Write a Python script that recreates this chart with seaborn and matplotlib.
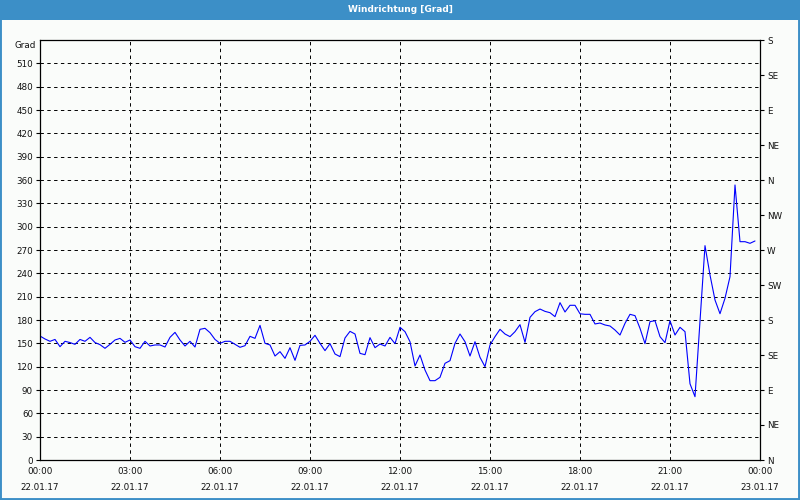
import matplotlib
matplotlib.use("Agg")
import matplotlib.pyplot as plt
import seaborn as sns
import pandas as pd
import numpy as np
from matplotlib.patches import Rectangle
from matplotlib.ticker import MultipleLocator

# ---- data (minutes after 22.01.17 00:00, wind direction in degrees) ----
minutes = list(range(0, 1440, 10))
direction = [
    159.4, 155.6, 152.6, 155.0, 145.7, 152.6, 151.0, 148.7, 155.0, 152.6,
    157.7, 151.0, 148.3, 143.6, 148.7, 154.3, 156.4, 151.3, 154.3,
    145.7, 143.6, 152.6, 146.6, 147.9, 147.9, 145.3, 157.7, 164.1, 154.3,
    146.6, 152.6, 145.3, 168.0, 169.3, 163.7, 155.0, 150.0,
    152.6, 152.6, 148.7, 144.9, 147.0, 159.0, 156.4, 173.1, 150.0, 147.9,
    133.7, 139.3, 130.7, 144.4, 128.1, 147.4, 147.9, 152.6,
    160.3, 150.0, 140.6, 149.6, 136.3, 132.9, 156.9, 165.4, 162.0, 137.1,
    135.4, 157.3, 144.4, 149.1, 146.6, 157.7, 149.6, 170.6,
    165.0, 152.1, 120.9, 135.0, 115.7, 102.0, 102.0, 106.3, 124.3, 127.7,
    150.0, 162.0, 152.1, 133.7, 152.1, 132.0, 120.0, 147.9,
    158.6, 168.0, 162.0, 158.6, 165.0, 174.0, 151.3, 183.4, 190.7, 194.1,
    191.1, 189.4, 184.3, 202.3, 190.3, 198.9, 198.9, 188.0,
    187.3, 187.3, 174.9, 176.1, 173.6, 172.3, 167.1, 160.7, 175.7, 187.3,
    185.6, 169.3, 149.6, 177.9, 179.1, 158.6, 150.9, 179.1,
    160.7, 170.6, 165.0, 98.0, 81.4, 179.1, 275.6, 237.9, 205.7, 188.1,
    207.9, 235.7, 353.6, 280.7, 280.7, 278.6, 281.6,
]
minutes = minutes[:len(direction)]

left_ticks = list(range(0, 540, 30))
right_ticks = list(range(0, 541, 45))
right_labels = ["N", "NE", "E", "SE", "S", "SW", "W", "NW", "N", "NE", "E", "SE", "S"]
x_major = list(range(0, 1441, 180))
x_labels = ["00:00\n22.01.17", "03:00\n22.01.17", "06:00\n22.01.17", "09:00\n22.01.17",
            "12:00\n22.01.17", "15:00\n22.01.17", "18:00\n22.01.17", "21:00\n22.01.17",
            "00:00\n23.01.17"]
title = "Windrichtung [Grad]"

df = pd.DataFrame({"t": minutes, "deg": direction})

sns.set_style("white")
plt.rcParams["font.family"] = ["DejaVu Sans"]

BG = "#fafcfa"
BLUE = "#3c8fc7"
TXT = "#111111"
FS = 6.3

fig = plt.figure(figsize=(8, 5), dpi=100, facecolor=BG)
ax = fig.add_axes([40/800, 40/500, 720/800, 420/500])
ax.set_facecolor(BG)

sns.lineplot(data=df, x="t", y="deg", ax=ax, color="#0000ff", linewidth=0.8)

ax.set_xlim(0, 1440)
ax.set_ylim(0, 540)
ax.set_xlabel("")
ax.set_ylabel("")

ax.set_yticks(left_ticks)
ax.set_yticklabels([str(v) for v in left_ticks])
ax.set_xticks(x_major)
ax.set_xticklabels(x_labels)
ax.xaxis.set_minor_locator(MultipleLocator(60))
for lbl in ax.get_xticklabels():
    lbl.set_linespacing(2.0)

ax.tick_params(axis="both", which="both", direction="out", colors="black",
               labelcolor=TXT, labelsize=FS, length=3, width=0.8, pad=2)
ax.tick_params(axis="x", which="minor", length=3)

ax.grid(True, which="major", color="black", linestyle=(0, (3.5, 3.5)), linewidth=0.7)
for s in ax.spines.values():
    s.set_color("black")
    s.set_linewidth(0.9)
    s.set_visible(True)

ax2 = ax.twinx()
ax2.set_ylim(0, 540)
ax2.set_yticks(right_ticks)
ax2.set_yticklabels(right_labels)
ax2.tick_params(axis="y", direction="out", colors="black", labelcolor=TXT,
                labelsize=FS, length=3, width=0.8, pad=2)
for s in ax2.spines.values():
    s.set_visible(False)

fig.text(36/800, 1 - 45/500, "Grad", ha="right", va="center", fontsize=FS, color=TXT)

# title bar and window border
fig.patches.append(Rectangle((0, 1 - 20/500), 1, 20/500, transform=fig.transFigure,
                             facecolor=BLUE, edgecolor="none", zorder=0))
fig.text(0.5, 1 - 10/500, title, ha="center", va="center", fontsize=6.5,
         fontweight="bold", color="white")
fig.patches.append(Rectangle((0, 0), 1, 1, transform=fig.transFigure,
                             facecolor="none", edgecolor=BLUE, linewidth=2.8, zorder=5))

fig.savefig("out.png", dpi=100, facecolor=BG)
